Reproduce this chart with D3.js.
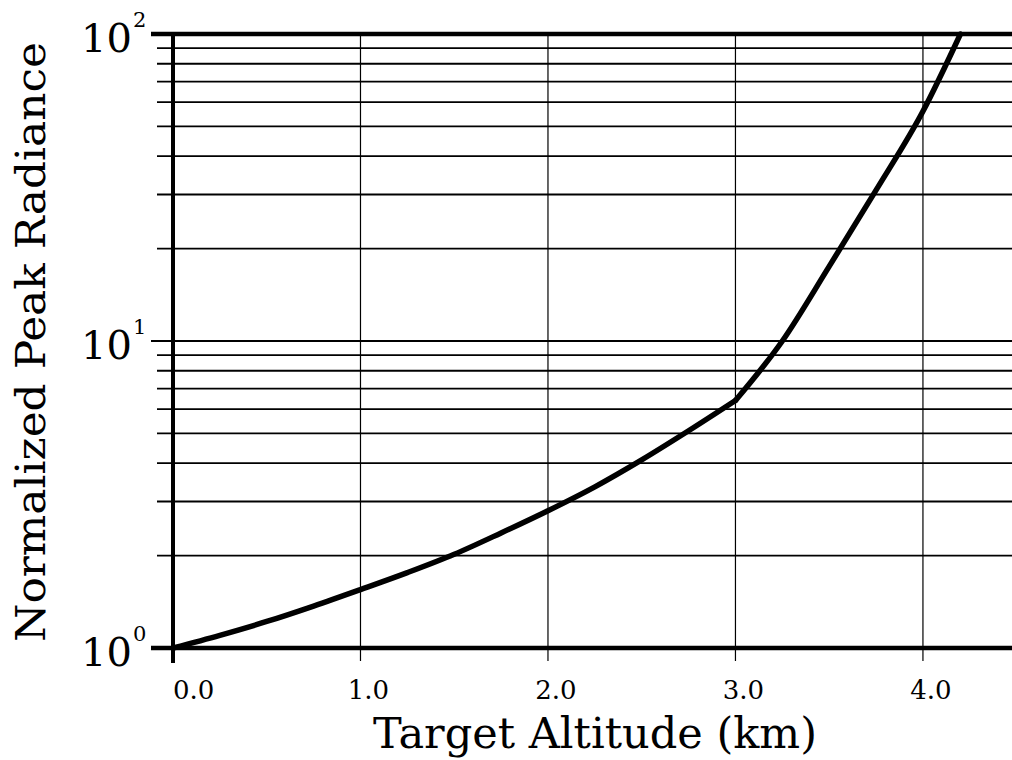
<!DOCTYPE html>
<html><head><meta charset="utf-8">
<script src="https://cdn.jsdelivr.net/npm/d3@7"></script>
<style>html,body{margin:0;padding:0;background:#fff;}svg{display:block;}</style>
</head><body>
<svg id="c" width="1012" height="760"></svg>
<script>
const altitude = [0, 0.25, 0.5, 0.75, 1.0, 1.25, 1.5, 1.75, 2.0, 2.25, 2.5, 2.75, 3.0, 3.25, 3.5, 3.75, 4.0, 4.2];
const radiance = [1, 1.1, 1.22, 1.37, 1.55, 1.76, 2.02, 2.37, 2.8, 3.35, 4.1, 5.1, 6.4, 10, 17.5, 31, 56, 100];
const xTicks = [0, 1, 2, 3, 4];
const xTickLabels = ["0.0", "1.0", "2.0", "3.0", "4.0"];
const yMajor = [1, 10, 100];
const yMajorExp = ["0", "1", "2"];
const yMinor = [2,3,4,5,6,7,8,9,20,30,40,50,60,70,80,90];

const svg = d3.select("#c");
const x = d3.scaleLinear().domain([0, 4.475]).range([173, 1012]);
const y = d3.scaleLog().domain([1, 100]).range([648, 34]);
const font = "'DejaVu Serif', 'Liberation Serif', serif";

// horizontal grid (minor)
svg.append("g").selectAll("line").data(yMinor).join("line")
  .attr("x1", 157).attr("x2", 1012)
  .attr("y1", d => y(d)).attr("y2", d => y(d))
  .attr("stroke", "#000").attr("stroke-width", 1.8);
// major horizontal
svg.append("g").selectAll("line").data(yMajor).join("line")
  .attr("x1", 151).attr("x2", 1012)
  .attr("y1", d => y(d)).attr("y2", d => y(d))
  .attr("stroke", "#000").attr("stroke-width", d => (d === 10 ? 2 : 4.5));

// vertical grid
svg.append("g").selectAll("line").data(xTicks.slice(1)).join("line")
  .attr("x1", d => x(d)).attr("x2", d => x(d))
  .attr("y1", 34).attr("y2", 661)
  .attr("stroke", "#000").attr("stroke-width", 1.2);
// left axis
svg.append("line").attr("x1", x(0)).attr("x2", x(0)).attr("y1", 32).attr("y2", 663)
  .attr("stroke", "#000").attr("stroke-width", 4);

// x tick labels
svg.append("g").selectAll("text").data(xTicks).join("text")
  .attr("x", (d, i) => i === 0 ? x(d) : x(d) + 8)
  .attr("y", 699)
  .attr("text-anchor", (d, i) => i === 0 ? "start" : "middle")
  .attr("font-family", font).attr("font-size", 26)
  .text((d, i) => xTickLabels[i]);

// y tick labels 10^n
svg.append("g").selectAll("text").data(yMajor).join("text")
  .attr("x", 132).attr("y", d => y(d) + 18)
  .attr("text-anchor", "end")
  .attr("font-family", font).attr("font-size", 40)
  .text("10");
svg.append("g").selectAll("text").data(yMajor).join("text")
  .attr("x", 133).attr("y", d => y(d) - 7)
  .attr("font-family", font).attr("font-size", 21)
  .text((d, i) => yMajorExp[i]);

// curve
const line = d3.line().x(d => x(d[0])).y(d => y(d[1])).curve(d3.curveMonotoneX);
const pts = altitude.map((a, i) => [a, radiance[i]]);
const seg1 = pts.filter(p => p[0] <= 3.0);
const seg2 = pts.filter(p => p[0] >= 3.0);
[seg1, seg2].forEach(s => svg.append("path").datum(s).attr("d", line)
  .attr("fill", "none").attr("stroke", "#000").attr("stroke-width", 5.5)
  .attr("stroke-linejoin", "round").attr("stroke-linecap", "round"));

// axis titles
svg.append("text").attr("x", 595).attr("y", 748).attr("text-anchor", "middle")
  .attr("font-family", font).attr("font-size", 42)
  .attr("textLength", 444).attr("lengthAdjust", "spacingAndGlyphs")
  .text("Target Altitude (km)");
svg.append("text").attr("transform", "translate(45,342) rotate(-90)")
  .attr("text-anchor", "middle")
  .attr("font-family", font).attr("font-size", 41)
  .attr("textLength", 600).attr("lengthAdjust", "spacingAndGlyphs")
  .text("Normalized Peak Radiance");
</script>
</body></html>
